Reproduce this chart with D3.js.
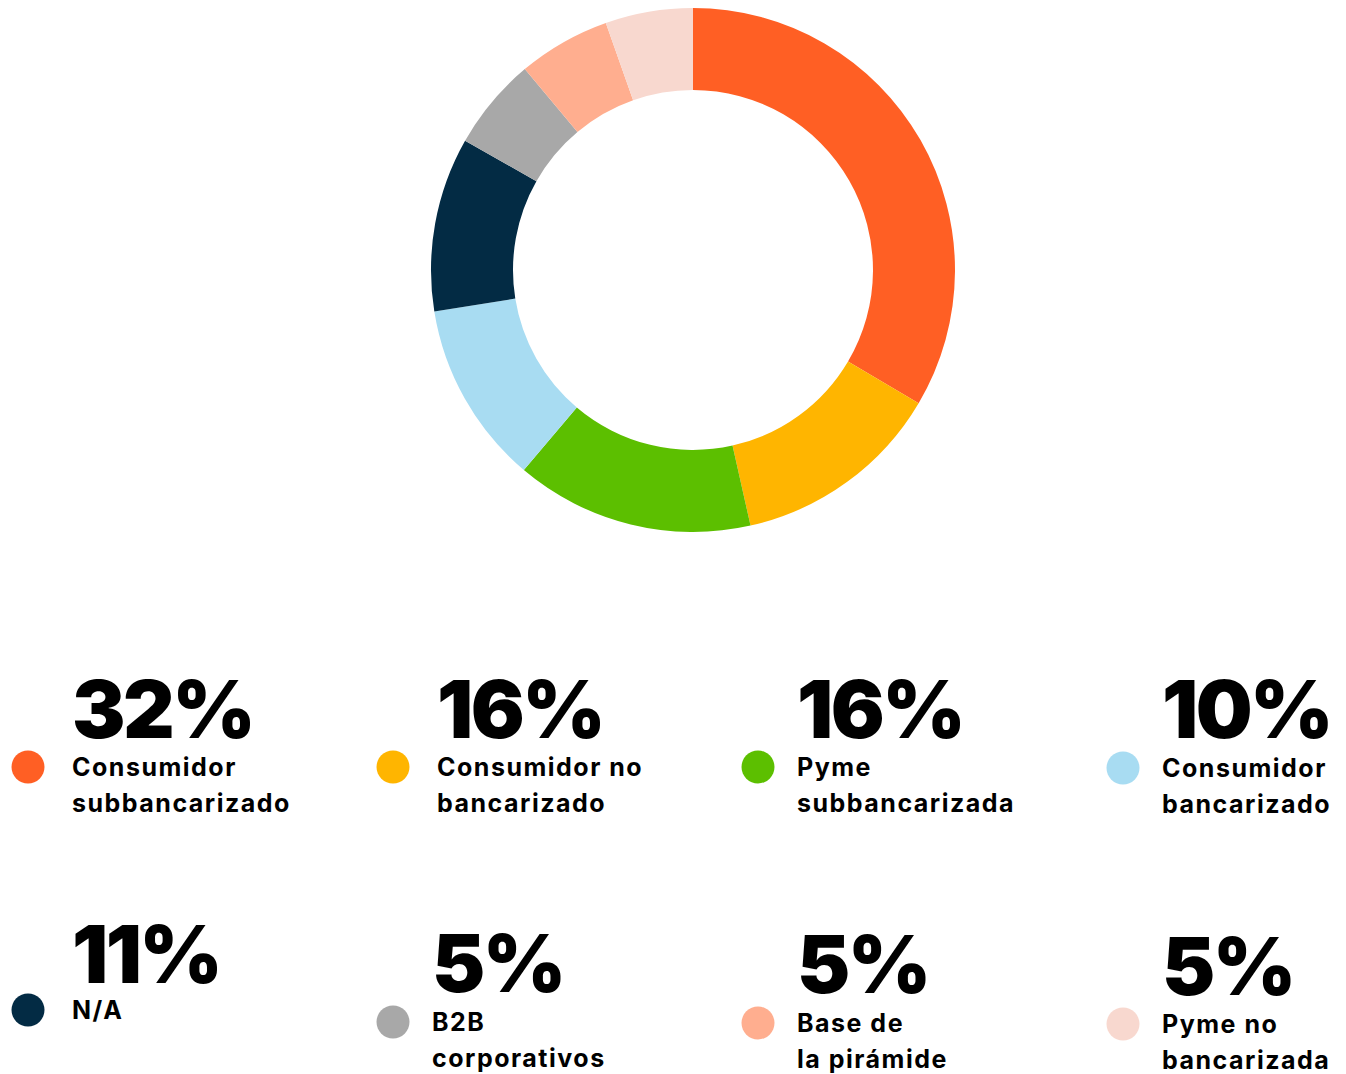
<!DOCTYPE html>
<html>
<head>
<meta charset="utf-8">
<script src="https://cdn.jsdelivr.net/npm/d3@7"></script>
<style>
  body { margin: 0; background: #fff; }
  svg { display: block; }
  .pct { font-family: Inter, "Noto Sans", sans-serif; font-weight: 900; font-size: 80px; fill: #000; letter-spacing: -2.5px; }
  .lbl { font-family: Inter, "Noto Sans", sans-serif; font-weight: 700; font-size: 25px; fill: #000; letter-spacing: 1.5px; }
</style>
</head>
<body>
<div id="chart"></div>
<script>
// Data
const categories = ["Consumidor subbancarizado", "Consumidor no bancarizado", "Pyme subbancarizada", "Consumidor bancarizado",
    "N/A", "B2B corporativos", "Base de la pirámide", "Pyme no bancarizada"];
const labelLines = [["Consumidor", "subbancarizado"], ["Consumidor no", "bancarizado"], ["Pyme", "subbancarizada"], ["Consumidor", "bancarizado"],
    ["N/A"], ["B2B", "corporativos"], ["Base de", "la pirámide"], ["Pyme no", "bancarizada"]];
const pctLabels = [32, 16, 16, 10, 11, 5, 5, 5];
const sliceValues = [33.5, 13.0, 14.7, 11.3, 10.75, 5.7, 5.7, 5.4];
const colors = ["#FF5F24", "#FFB500", "#5CBF00", "#A8DCF2", "#032B44", "#A8A8A8", "#FFAE8F", "#F8D8CF"];

const width = 1346, height = 1074;

const svg = d3.select("#chart")
    .append("svg")
    .attr("width", width)
    .attr("height", height);

// Donut
const pie = d3.pie().sort(null).value(d => d);
const arc = d3.arc().innerRadius(180).outerRadius(262);

svg.append("g")
    .attr("transform", "translate(693,270)")
    .selectAll("path")
    .data(pie(sliceValues))
    .enter()
    .append("path")
    .attr("d", arc)
    .attr("fill", (d, i) => colors[i]);

// Legend, 4 columns x 2 rows
const textX = [72, 437, 797, 1162, 72, 432, 797, 1162];
const dotX = [28, 393, 758, 1123];
const pctBase = [738, 738, 738, 738, 983, 992, 993, 995];
const labelBase = [776, 776, 776, 777, 1019, 1031, 1032, 1033];

const legend = svg.selectAll(".legend")
    .data(categories)
    .enter()
    .append("g")
    .attr("class", "legend");

legend.append("text")
    .attr("class", "pct")
    .attr("x", (d, i) => textX[i])
    .attr("y", (d, i) => pctBase[i])
    .text((d, i) => pctLabels[i] + "%");

legend.append("circle")
    .attr("cx", (d, i) => dotX[i % 4])
    .attr("cy", (d, i) => labelBase[i] - 9)
    .attr("r", 16.5)
    .attr("fill", (d, i) => colors[i]);

legend.append("text")
    .attr("class", "lbl")
    .attr("x", (d, i) => textX[i])
    .attr("y", (d, i) => labelBase[i])
    .selectAll("tspan")
    .data((d, i) => labelLines[i])
    .enter()
    .append("tspan")
    .attr("x", function () { return this.parentNode.getAttribute("x"); })
    .attr("dy", (d, j) => j === 0 ? 0 : 36)
    .text(d => d);
</script>
</body>
</html>
